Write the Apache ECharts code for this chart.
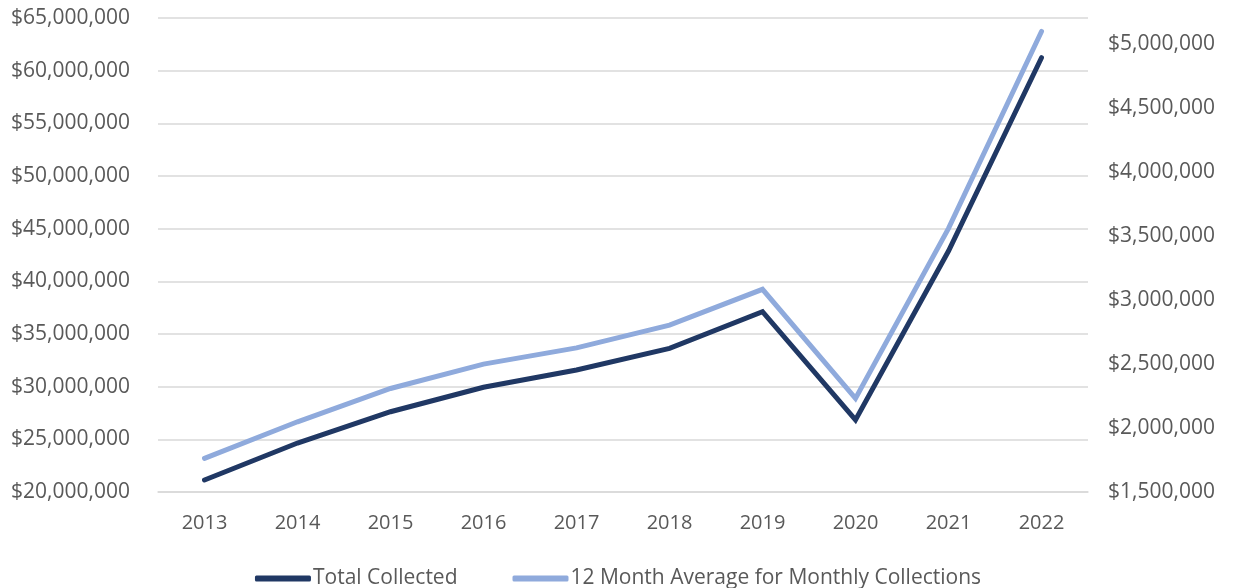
<!DOCTYPE html>
<html>
<head>
<meta charset="utf-8">
<script src="https://cdn.jsdelivr.net/npm/echarts@6/dist/echarts.min.js"></script>
<style>
html,body{margin:0;padding:0;background:#fff;}
#chart{width:1236px;height:588px;}
</style>
</head>
<body>
<div id="chart"></div>
<script>
const categories = ['2013','2014','2015','2016','2017','2018','2019','2020','2021','2022'];
const totalCollected = [21140000, 24650000, 27620000, 29940000, 31580000, 33640000, 37120000, 26840000, 42880000, 61230000];
const monthlyAverage = [1763000, 2048000, 2308000, 2498000, 2625000, 2802000, 3082000, 2230000, 3558000, 5095000];
const seriesNames = ['Total Collected', '12 Month Average for Monthly Collections'];

const fmt = v => '$' + Math.round(v).toLocaleString('en-US');
const textColor = '#595959';
const fontFamily = '"Open Sans", Lato, sans-serif';

const chart = echarts.init(document.getElementById('chart'));
chart.setOption({
  animation: false,
  backgroundColor: '#ffffff',
  grid: {left: 158, right: 148, top: 18, bottom: 96, containLabel: false},
  legend: {
    top: 563,
    left: 'center',
    itemWidth: 56,
    itemHeight: 6,
    itemGap: 55,
    icon: 'roundRect',
    textStyle: {color: textColor, fontSize: 21, fontFamily: fontFamily, padding: [0,0,0,-3]},
    data: seriesNames
  },
  xAxis: {
    type: 'category',
    data: categories,
    boundaryGap: true,
    axisLine: {lineStyle: {color: '#D9D9D9', width: 1.5}},
    axisTick: {show: false},
    axisLabel: {color: textColor, fontSize: 20, fontFamily: fontFamily, margin: 21}
  },
  yAxis: [
    {
      type: 'value', min: 20000000, max: 65000000, interval: 5000000,
      axisLine: {show: false}, axisTick: {show: false},
      splitLine: {lineStyle: {color: '#D9D9D9', width: 1.5}},
      axisLabel: {color: textColor, fontSize: 21, fontFamily: fontFamily, margin: 28, formatter: fmt}
    },
    {
      type: 'value', min: 1500000, max: 5200000, interval: 500000,
      axisLine: {show: false}, axisTick: {show: false},
      splitLine: {show: false},
      axisLabel: {color: textColor, fontSize: 21, fontFamily: fontFamily, margin: 20, formatter: fmt, showMaxLabel: false}
    }
  ],
  series: [
    {
      name: seriesNames[0], type: 'line', yAxisIndex: 0, data: totalCollected,
      symbol: 'none', z: 3,
      itemStyle: {color: '#203864'},
      lineStyle: {color: '#203864', width: 5, cap: 'round', join: 'miter'}
    },
    {
      name: seriesNames[1], type: 'line', yAxisIndex: 1, data: monthlyAverage,
      symbol: 'none', z: 2,
      itemStyle: {color: '#8FAADC'},
      lineStyle: {color: '#8FAADC', width: 5, cap: 'round', join: 'miter'}
    }
  ]
});
</script>
</body>
</html>
